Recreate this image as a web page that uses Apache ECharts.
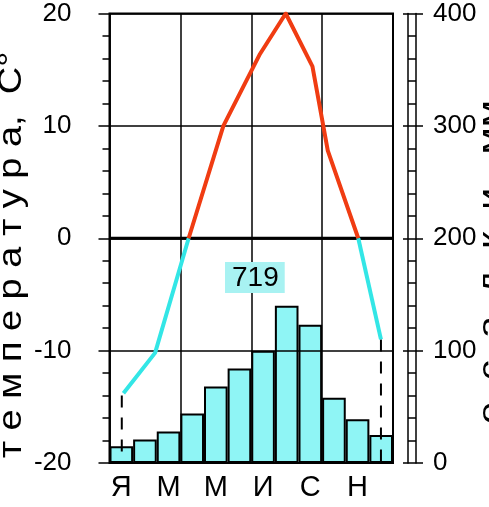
<!DOCTYPE html>
<html>
<head>
<meta charset="utf-8">
<style>
html,body{margin:0;padding:0;background:#fff;}
#chart{width:489px;height:507px;}
</style>
<script src="https://cdn.jsdelivr.net/npm/echarts@6/dist/echarts.min.js"></script>
</head>
<body>
<div id="chart"></div>
<script>
// ---- data ----
const months = ['Я','Ф','М','А','М','И','И','А','С','О','Н','Д'];
const precip = [15, 21, 28, 44, 68, 84, 100, 140, 123, 58, 39, 25];
// temperature curve: position along the year (months from start) and value, °C
const tempPos = [0.59, 1.93, 3.35, 4.82, 6.37, 7.46, 8.59, 9.24, 10.53, 11.49];
const tempVal = [-13.8, -10.2, 0, 10, 16.4, 20, 15.3, 7.8, 0, -9.0];
// dashed drop lines at the ends of the curve
const dashPos = [0.52, 11.49];
const dashTop = [-14.0, -9.0];
const tempRange = [-20, 20];
const precipRange = [0, 400];
const yearRange = [0, 12];
const total = '719';
const tempTitle = 'т е м п е р а т у р а,  С°';
const precipTitle = 'о  с  а  д  к  и,  мм';

const TXT = '"Liberation Sans", Arial, sans-serif';
const RED = '#f03c12', CYAN = '#33e6e6', BAR = '#8ff5f5', BOX = '#a8f2f2';

const chart = echarts.init(document.getElementById('chart'), null, {renderer: 'canvas'});

const pts = tempPos.map((p, i) => [p, tempVal[i]]);
// split the curve where it crosses 0 °C (points with value 0)
const zeroIdx = tempVal.map((v, i) => v === 0 ? i : -1).filter(i => i >= 0);
const segs = [
  {data: pts.slice(0, zeroIdx[0] + 1), color: CYAN},
  {data: pts.slice(zeroIdx[0], zeroIdx[1] + 1), color: RED},
  {data: pts.slice(zeroIdx[1]), color: CYAN}
];
const lineSeries = segs.map(s => ({
  type: 'line', xAxisIndex: 1, yAxisIndex: 0, z: 10, symbol: 'none', silent: true,
  data: s.data, lineStyle: {color: s.color, width: 4, join: 'round'}
}));
const dashSeries = dashPos.map((p, i) => ({
  type: 'line', xAxisIndex: 1, yAxisIndex: 0, z: 9,
  symbol: 'none', silent: true,
  data: [[p, dashTop[i]], [p, tempRange[0]]],
  lineStyle: {color: '#000', width: 2, type: [12, 10]}
}));
const zeroLine = {
  type: 'line', xAxisIndex: 1, yAxisIndex: 0, z: 8, symbol: 'none', silent: true,
  data: [[yearRange[0], 0], [yearRange[1], 0]],
  lineStyle: {color: '#000', width: 3}
};

const option = {
  animation: false,
  backgroundColor: '#fff',
  grid: {left: 109.5, right: 96, top: 13.5, bottom: 44, show: true,
         borderColor: '#000', borderWidth: 2, backgroundColor: 'transparent'},
  title: {
    text: total, left: 225, top: 262, z: 20,
    backgroundColor: BOX, padding: [2, 6, 0, 7],
    textStyle: {fontFamily: TXT, fontSize: 28, fontWeight: 'normal', color: '#000', lineHeight: 29}
  },
  xAxis: [
    {type: 'category', data: months, position: 'bottom', boundaryGap: true,
     axisLine: {show: false}, axisTick: {show: false}, splitLine: {show: false},
     axisLabel: {interval: 1, margin: 10, fontFamily: TXT, fontSize: 29, color: '#000'}},
    {type: 'value', min: yearRange[0], max: yearRange[1], interval: 3, position: 'top', z: 5,
     axisLine: {show: false}, axisTick: {show: false}, axisLabel: {show: false},
     splitLine: {show: true, lineStyle: {color: '#000', width: 1.5}}}
  ],
  yAxis: [
    {type: 'value', min: tempRange[0], max: tempRange[1], interval: 10, position: 'left', offset: 17, z: 5,
     axisLine: {show: true, lineStyle: {color: '#000', width: 1.5}},
     axisTick: {show: true, length: 11, lineStyle: {color: '#000', width: 1.5}},
     minorTick: {show: true, splitNumber: 5, length: 7, lineStyle: {color: '#000', width: 1.5}},
     splitLine: {show: true, lineStyle: {color: '#000', width: 1.5}},
     axisLabel: {margin: 21, fontFamily: TXT, fontSize: 26, color: '#000'}},
    {type: 'value', min: precipRange[0], max: precipRange[1], interval: 100, position: 'right', offset: 10,
     axisLine: {show: false},
     axisTick: {show: true, length: 20, lineStyle: {color: '#000', width: 1.5}},
     splitLine: {show: false},
     axisLabel: {margin: 30, fontFamily: TXT, fontSize: 26, color: '#000'}},
    {type: 'value', min: precipRange[0], max: precipRange[1], interval: 20, position: 'right', offset: 15,
     axisLine: {show: true, lineStyle: {color: '#000', width: 1.5}},
     axisTick: {show: true, length: 8, lineStyle: {color: '#000', width: 1.5}},
     splitLine: {show: false}, axisLabel: {show: false}},
    {type: 'value', min: precipRange[0], max: precipRange[1], interval: 100, position: 'right', offset: 23,
     axisLine: {show: true, lineStyle: {color: '#000', width: 1.5}},
     axisTick: {show: false}, splitLine: {show: false}, axisLabel: {show: false}}
  ],
  graphic: [
    {type: 'text', x: 12, y: 255, rotation: Math.PI / 2, scaleX: 1.15, silent: true,
     style: {text: tempTitle, x: 0, y: 0, align: 'center', verticalAlign: 'middle',
             font: '33px ' + TXT, fill: '#000'}},
    {type: 'text', x: 492, y: 262, rotation: Math.PI / 2, scaleX: 1.2, silent: true,
     style: {text: precipTitle, x: 0, y: 0, align: 'center', verticalAlign: 'middle',
             font: '33px ' + TXT, fill: '#000'}}
  ],
  series: [
    {type: 'bar', xAxisIndex: 0, yAxisIndex: 1, data: precip, barCategoryGap: 0, z: 2,
     itemStyle: {color: BAR, borderColor: '#000', borderWidth: 2}},
    zeroLine,
    ...lineSeries,
    ...dashSeries
  ]
};
chart.setOption(option);
</script>
</body>
</html>
